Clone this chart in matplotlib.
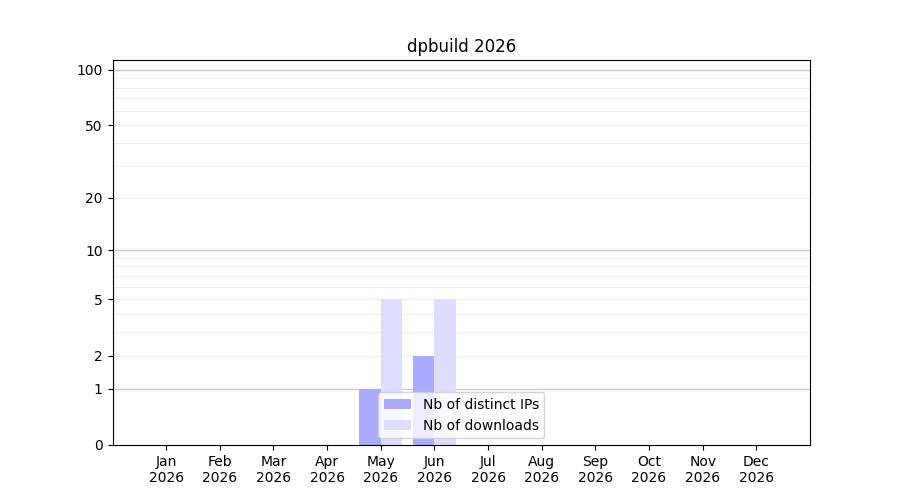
import numpy as np
import matplotlib
matplotlib.use("Agg")
import matplotlib.pyplot as plt

# Data
months = ["Jan", "Feb", "Mar", "Apr", "May", "Jun",
          "Jul", "Aug", "Sep", "Oct", "Nov", "Dec"]
year = 2026
distinct_ips = [0, 0, 0, 0, 1, 2, 0, 0, 0, 0, 0, 0]
downloads = [0, 0, 0, 0, 5, 5, 0, 0, 0, 0, 0, 0]
yticks = [0, 1, 2, 5, 10, 20, 50, 100]
ytop = 113


def fwd(y):
    return np.log10(1 + np.asarray(y, dtype=float))


def inv(y):
    return 10 ** np.asarray(y, dtype=float) - 1


x = np.arange(1, len(months) + 1)

fig, ax = plt.subplots(figsize=(9, 5), dpi=100)
ax.set_yscale("function", functions=(fwd, inv))

ax.bar(x - 0.2, distinct_ips, width=0.4, color="#aaaaff", label="Nb of distinct IPs")
ax.bar(x + 0.2, downloads, width=0.4, color="#ddddff", label="Nb of downloads")

ax.set_xlim(0, 13)
ax.set_ylim(0, ytop)
ax.set_xticks(x)
ax.set_xticklabels([f"{m}\n{year}" for m in months])

ax.set_yticks(yticks)
ax.set_yticklabels([str(t) for t in yticks])
minor = [m * 10 ** k for k in range(3) for m in range(2, 10)]
minor = [v for v in minor if v < ytop]
ax.set_yticks(minor, minor=True)
ax.tick_params(axis="y", which="minor", length=0)

# grid lines: darker on decades, faint on the rest
for v in [1, 10, 100]:
    ax.axhline(v, color="#cccccc", linewidth=1, zorder=0)
for v in minor:
    ax.axhline(v, color="#eeeeee", linewidth=0.8, zorder=0)

ax.set_title(f"dpbuild {year}")
ax.legend(loc="lower center")

plt.savefig("out.png")
